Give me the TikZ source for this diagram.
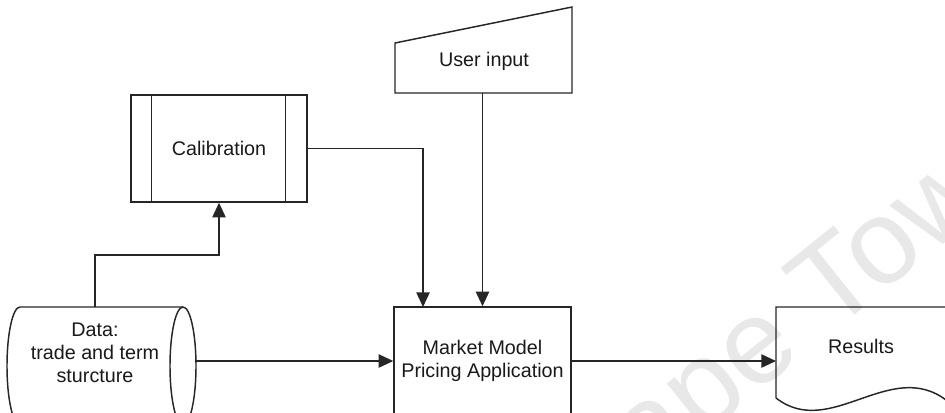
\documentclass[tikz,border=0pt]{standalone}
\usepackage{fontspec}
\setmainfont{Liberation Sans}
\usetikzlibrary{arrows.meta,calc}
\begin{document}
\begin{tikzpicture}[x=0.75pt,y=-0.75pt,
  line/.style={draw=black!85, line width=1.1pt},
  conn/.style={line, -{Triangle[length=11pt,width=10pt]}},
  lbl/.style={font=\fontsize{14.8}{17.3}\selectfont, align=center, inner sep=0pt, text=black!90},
  box/.style={line, rectangle, inner sep=0pt}]
\useasboundingbox (0,0) rectangle (945,412);
\clip (0,0) rectangle (945,412);

% faint watermark behind the flow chart
\node[anchor=base west, rotate=38.6, text=black!9, inner sep=0pt,
      font=\fontsize{90}{90}\selectfont] (wm) at (580,534) {Cape Town};

% data store: horizontal cylinder
\draw[line] (20,307) -- (183,307)
  .. controls (190.2,307) and (196,333.4) .. (196,366)
  .. controls (196,398.6) and (190.2,425) .. (183,425) -- (20,425)
  .. controls (12.8,425) and (7,398.6) .. (7,366)
  .. controls (7,333.4) and (12.8,307) .. (20,307) -- cycle;
\draw[line] (183,307) .. controls (175.8,307) and (170,333.4) .. (170,366)
  .. controls (170,398.6) and (175.8,425) .. (183,425);
\node[lbl] (data) at (95,353) {Data:\\trade and term\\sturcture};
\coordinate (dataN) at (95,307);
\coordinate (dataE) at (196,361);
\coordinate (dcjog) at (95,255);

% predefined process
\node[box, lbl, minimum width=132pt, minimum height=80.25pt] (calib) at (219,148.5) {Calibration};
\draw[line] ($(calib.north west)+(21,0)$) -- ($(calib.south west)+(21,0)$);
\draw[line] ($(calib.north east)+(-22,0)$) -- ($(calib.south east)+(-22,0)$);

% manual input
\draw[line] (395,43) -- (572,7) -- (572,93) -- (395,93) -- cycle;
\node[lbl] (user) at (484,61) {User input};
\coordinate (userS) at (482.5,93);

% main process
\node[box, minimum width=132.75pt, minimum height=99.75pt] (mkt) at (482.5,373.5) {};
\node[lbl] (mkttxt) at (482.5,361) {Market Model\\Pricing Application};
\coordinate (mktin) at (423,307);

% output document
\draw[line] (776,398) -- (776,307) -- (946,307) -- (946,400)
  .. controls (890,358) and (830,440) .. (776,398);
\node[lbl] (res) at (861,346) {Results};
\coordinate (resW) at (776,361);

% connectors
\draw[conn] (dataN) -- (dcjog) -| (calib.south);
\draw[conn] (calib.east) -| (mktin);
\draw[conn] (userS) -- (mkt.north);
\draw[conn] (dataE) -- (dataE -| mkt.west);
\draw[conn] (mkt.east |- dataE) -- (resW);
\end{tikzpicture}
\end{document}
